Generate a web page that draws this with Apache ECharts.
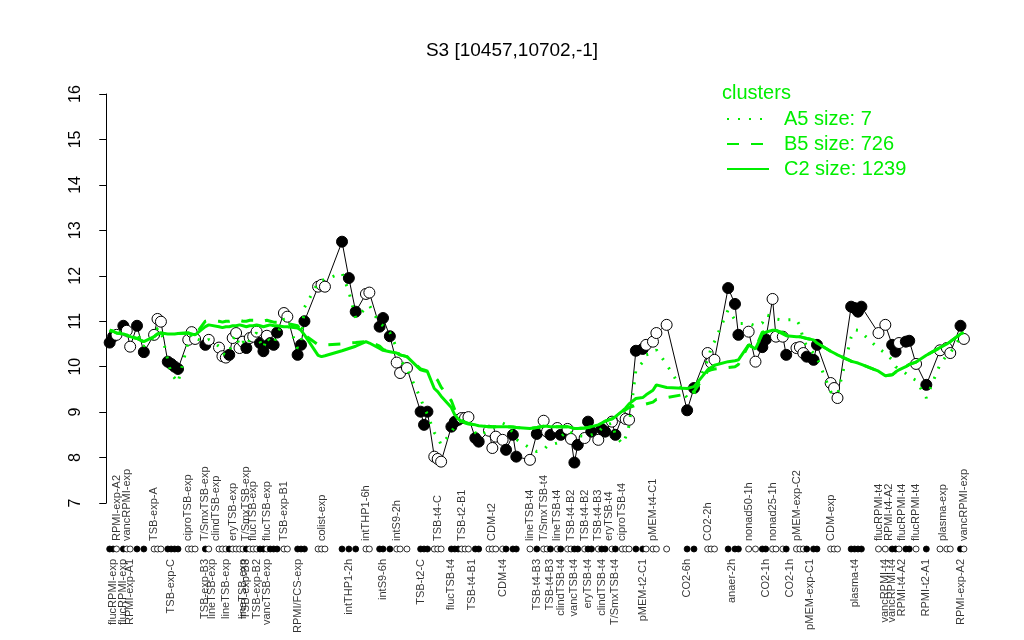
<!DOCTYPE html>
<html><head><meta charset="utf-8">
<script src="https://cdn.jsdelivr.net/npm/echarts@6/dist/echarts.min.js"></script>
<style>html,body{margin:0;padding:0;background:#fff}#c{width:1024px;height:640px}</style>
</head><body><div id="c"></div>
<script>
// x position of each sample (index units along the profile)
const positions = [1,2,3,5,6,7,9,11,14,15,16,18,19,20,21,24,25,26,29,30,33,34,35,36,37,38,39,40,41,42,43,44,45,46,47,48,49,50,52,53,56,57,58,62,63,64,69,71,73,76,77,80,81,83,85,86,88,92,93,94,96,97,98,101,102,103,104,105,106,108,109,112,113,114,116,117,119,120,124,126,128,129,130,132,133,135,136,137,138,140,141,142,144,145,146,148,149,151,152,153,155,157,158,160,161,164,170,172,176,177,178,182,184,185,188,190,192,193,195,196,198,199,202,203,204,205,207,208,212,213,214,218,219,220,221,226,228,230,231,232,234,235,237,240,244,246,247,250,251];
const values = [10.53,10.66,10.70,10.90,10.79,10.44,10.90,10.32,10.70,11.05,10.99,10.11,10.06,10.00,9.95,10.59,10.76,10.61,10.48,10.59,10.42,10.23,10.20,10.26,10.63,10.74,10.41,10.55,10.41,10.63,10.66,10.77,10.52,10.34,10.68,10.52,10.48,10.75,11.18,11.10,10.26,10.48,11.00,11.76,11.80,11.76,12.75,11.95,11.21,11.60,11.63,10.88,11.07,10.67,10.09,9.86,9.97,9.01,8.72,9.01,8.02,7.97,7.91,8.68,8.79,8.83,8.87,8.87,8.89,8.43,8.35,8.59,8.21,8.46,8.39,8.17,8.50,8.02,7.95,8.52,8.81,8.57,8.50,8.65,8.50,8.63,8.41,7.89,8.28,8.43,8.79,8.57,8.39,8.63,8.57,8.79,8.50,8.89,8.85,8.83,10.35,10.39,10.48,10.55,10.74,10.92,9.04,9.53,10.30,10.09,10.15,11.73,11.38,10.70,10.77,10.11,10.43,10.60,11.49,10.66,10.66,10.26,10.41,10.43,10.30,10.22,10.15,10.48,9.64,9.53,9.31,11.32,11.29,11.21,11.32,10.74,10.92,10.48,10.33,10.52,10.55,10.57,10.06,9.60,10.36,10.41,10.30,10.90,10.61];
const filled = [1,1,0,1,0,0,1,1,0,0,0,1,1,1,1,0,0,0,1,0,0,0,0,1,0,0,0,0,1,0,0,0,1,1,0,1,1,1,0,0,1,1,1,0,0,0,1,1,1,0,0,1,1,1,0,0,0,1,1,1,0,0,0,1,1,1,0,0,0,1,1,0,0,0,0,1,1,1,0,1,0,0,1,0,1,0,0,1,1,0,1,1,0,1,1,0,1,0,0,0,1,1,0,0,0,0,1,1,0,0,0,1,1,1,0,0,1,1,0,0,0,1,0,0,0,1,1,1,0,0,0,1,1,1,1,0,0,1,1,0,1,1,0,1,0,0,0,1,0];
// cluster mean profiles at the same positions
const clusterA5 = [10.80,10.75,10.72,10.80,10.72,10.55,10.75,10.45,10.65,10.85,10.80,10.15,9.84,9.75,9.65,10.55,10.72,10.62,10.55,10.60,10.45,10.30,10.25,10.30,10.60,10.70,10.45,10.55,10.45,10.60,10.65,10.75,10.55,10.40,10.65,10.55,10.50,10.70,11.05,11.00,10.40,10.55,11.30,11.85,11.90,11.92,12.06,11.65,11.07,11.29,11.35,10.95,10.90,10.75,10.41,10.15,9.95,9.30,9.10,8.95,8.55,8.45,8.28,8.55,8.70,8.78,8.80,8.82,8.80,8.55,8.48,8.60,8.65,8.70,8.76,8.72,8.55,8.40,8.21,8.13,8.17,8.25,8.28,8.32,8.45,8.60,8.55,8.50,8.48,8.47,8.46,8.50,8.55,8.65,8.70,8.76,8.50,8.30,8.45,8.70,9.93,10.10,10.26,10.30,10.37,10.05,9.31,9.40,10.15,10.40,10.55,11.25,11.03,10.95,10.95,10.90,10.96,11.14,11.10,11.05,11.03,11.03,11.03,10.90,10.60,10.45,10.30,10.20,9.45,9.40,9.38,10.65,10.81,10.80,10.75,10.40,10.30,10.15,10.00,9.95,9.85,9.78,9.70,9.31,10.05,10.25,10.30,10.65,10.70];
const clusterB5 = [10.80,10.78,10.74,10.72,10.70,10.66,10.62,10.55,10.66,10.72,10.74,10.72,10.72,10.72,10.73,10.74,10.72,10.70,11.00,11.02,11.00,10.98,11.00,11.00,11.02,11.00,11.02,11.00,11.00,11.02,11.02,11.00,11.00,11.00,11.02,11.00,10.98,10.98,10.98,10.95,10.90,10.80,10.70,10.48,10.48,10.48,10.50,10.52,10.53,10.55,10.55,10.45,10.38,10.33,10.30,10.26,10.22,9.95,9.93,9.90,9.78,9.70,9.55,9.25,9.05,8.90,8.82,8.78,8.75,8.72,8.70,8.68,8.68,8.68,8.68,8.68,8.67,8.66,8.64,8.66,8.69,8.69,8.68,8.68,8.68,8.68,8.66,8.64,8.64,8.65,8.66,8.68,8.72,8.76,8.80,8.85,8.90,9.00,9.05,9.10,9.15,9.16,9.18,9.22,9.28,9.32,9.40,9.45,9.90,9.93,9.95,9.98,10.00,10.05,10.48,10.40,10.76,10.78,10.80,10.80,10.75,10.70,10.66,10.66,10.64,10.62,10.59,10.52,10.34,10.30,10.26,10.12,10.10,10.08,10.05,9.90,9.80,9.82,9.88,9.93,10.00,10.05,10.10,10.25,10.42,10.50,10.55,10.72,10.75];
const clusterC2 = [10.80,10.78,10.74,10.72,10.70,10.66,10.62,10.55,10.66,10.72,10.74,10.72,10.72,10.72,10.73,10.74,10.72,10.70,10.88,10.92,10.88,10.86,10.88,10.88,10.90,10.90,10.92,10.90,10.88,10.90,10.90,10.92,10.90,10.88,10.90,10.92,10.90,10.90,10.88,10.88,10.85,10.80,10.70,10.25,10.22,10.24,10.35,10.40,10.45,10.55,10.52,10.40,10.36,10.33,10.30,10.26,10.22,9.93,9.91,9.89,9.52,9.45,9.35,9.10,8.94,8.85,8.80,8.76,8.74,8.72,8.70,8.68,8.68,8.68,8.68,8.68,8.67,8.66,8.64,8.66,8.69,8.69,8.68,8.68,8.68,8.68,8.66,8.64,8.64,8.65,8.66,8.68,8.72,8.76,8.80,8.85,8.90,9.02,9.09,9.18,9.30,9.32,9.38,9.48,9.60,9.54,9.52,9.56,9.93,9.98,10.03,10.11,10.13,10.15,10.48,10.39,10.72,10.76,10.80,10.80,10.72,10.68,10.66,10.66,10.64,10.62,10.59,10.52,10.34,10.30,10.26,10.12,10.10,10.08,10.05,9.90,9.80,9.82,9.88,9.93,10.00,10.05,10.10,10.25,10.42,10.50,10.55,10.72,10.75];
// sample labels: [position, text]
const topLabels = [[3,'RPMI-exp-A2'],[6,'vancRPMI-exp'],[14,'TSB-exp-A'],[24,'ciproTSB-exp'],[29,'T/SmxTSB-exp'],[32,'clindTSB-exp'],[37,'eryTSB-exp'],[41,'T/SmxTSB-exp'],[43,'flucTSB-exp'],[47,'flucTSB-exp'],[52,'TSB-exp-B1'],[63,'colist-exp'],[76,'intTHP1-6h'],[85,'intS9-2h'],[97,'TSB-t4-C'],[104,'TSB-t2-B1'],[113,'CDM-t2'],[124,'lineTSB-t4'],[128,'T/SmxTSB-t4'],[132,'lineTSB-t4'],[136,'TSB-t4-B2'],[140,'TSB-t4-B2'],[144,'TSB-t4-B3'],[147,'eryTSB-t4'],[151,'ciproTSB-t4'],[160,'pMEM-t4-C1'],[176,'CO2-2h'],[188,'nonad50-1h'],[195,'nonad25-1h'],[202,'pMEM-exp-C2'],[212,'CDM-exp'],[226,'flucRPMI-t4'],[229,'RPMI-t4-A2'],[233,'flucRPMI-t4'],[237,'flucRPMI-t4'],[245,'plasma-exp'],[251,'vancRPMI-exp']];
const bottomLabels = [[2,'flucRPMI-exp'],[5,'flucRPMI-exp'],[7,'RPMI-exp-A1'],[19,'TSB-exp-C'],[29,'TSB-exp-B3'],[31,'lineTSB-exp'],[35,'lineTSB-exp'],[40,'lineTSB-exp'],[41,'TSB-exp-B3'],[44,'TSB-exp-B2'],[47,'vancTSB-exp'],[56,'RPMI/FCS-exp'],[71,'intTHP1-2h'],[81,'intS9-6h'],[92,'TSB-t2-C'],[101,'flucTSB-t4'],[107,'TSB-t4-B1'],[116,'CDM-t4'],[126,'TSB-t4-B3'],[130,'TSB-t4-B3'],[133,'clindTSB-t4'],[137,'vancTSB-t4'],[141,'eryTSB-t4'],[145,'clindTSB-t4'],[149,'T/SmxTSB-t4'],[157,'pMEM-t2-C1'],[170,'CO2-6h'],[183,'anaer-2h'],[193,'CO2-1h'],[200,'CO2-1h'],[206,'pMEM-exp-C1'],[219,'plasma-t4'],[228,'vancRPMI-t4'],[230,'vancRPMI-t4'],[233,'RPMI-t4-A2'],[240,'RPMI-t2-A1'],[250,'RPMI-exp-A2']];
const yTicks = [7,8,9,10,11,12,13,14,15,16];
const titleText = 'S3 [10457,10702,-1]';
const clusterNames = ['A5 size: 7','B5 size: 726','C2 size: 1239'];

const FONT = 'Liberation Sans, Arial, Helvetica, sans-serif';
const GREEN = '#00ee00';
const xMin = -3, xMax = 256;
const pts = positions.map((p,i)=>[p, values[i]]);
const chart = echarts.init(document.getElementById('c'), null, {renderer:'canvas'});
chart.setOption({
  animation:false,
  backgroundColor:'#fff',
  textStyle:{fontFamily:FONT},
  title:[
    {text:titleText,left:'center',top:36,textStyle:{fontSize:19,fontWeight:'normal',color:'#000',fontFamily:FONT}},
    {text:'clusters',left:717,top:78,textStyle:{fontSize:20,fontWeight:'normal',color:GREEN,fontFamily:FONT}}
  ],
  legend:{
    orient:'vertical',left:721,top:104,itemWidth:42,itemHeight:14,itemGap:5,
    data:clusterNames,
    itemStyle:{opacity:0},
    textStyle:{fontSize:20,color:GREEN,fontFamily:FONT,padding:[0,0,0,10]}
  },
  grid:[
    {left:96,right:43,top:94,bottom:137},
    {left:96,right:43,top:544,height:10}
  ],
  xAxis:[
    {gridIndex:0,type:'value',min:xMin,max:xMax,show:false},
    {gridIndex:1,type:'value',min:xMin,max:xMax,show:false}
  ],
  yAxis:[
    {gridIndex:0,type:'value',min:yTicks[0],max:yTicks[yTicks.length-1],interval:1,
     axisLine:{show:true,lineStyle:{color:'#000',width:1}},
     axisTick:{show:true,length:7,lineStyle:{color:'#000'}},
     splitLine:{show:false},
     axisLabel:{rotate:90,fontSize:16,color:'#000',margin:12,fontFamily:FONT}},
    {gridIndex:1,type:'value',min:-1,max:1,show:false}
  ],
  series:[
    {type:'line',name:'profile',xAxisIndex:0,yAxisIndex:0,data:pts,symbol:'none',
     lineStyle:{color:'#000',width:1},z:2,silent:true},
    {type:'scatter',name:'samples',xAxisIndex:0,yAxisIndex:0,symbol:'circle',symbolSize:11,z:3,
     itemStyle:{opacity:1,borderColor:'#000',borderWidth:1},
     data:pts.map((d,i)=>({value:d,itemStyle:{color:filled[i]?'#000':'#fff',borderColor:'#000',borderWidth:1,opacity:1}}))},
    {type:'line',name:clusterNames[0],xAxisIndex:0,yAxisIndex:0,data:positions.map((p,i)=>[p,clusterA5[i]]),
     symbol:'none',lineStyle:{color:GREEN,width:3,type:[2,9]},itemStyle:{color:GREEN},z:4},
    {type:'line',name:clusterNames[1],xAxisIndex:0,yAxisIndex:0,data:positions.map((p,i)=>[p,clusterB5[i]]),
     symbol:'none',lineStyle:{color:GREEN,width:3,type:[12,12]},itemStyle:{color:GREEN},z:4},
    {type:'line',name:clusterNames[2],xAxisIndex:0,yAxisIndex:0,data:positions.map((p,i)=>[p,clusterC2[i]]),
     symbol:'none',lineStyle:{color:GREEN,width:3,type:'solid'},itemStyle:{color:GREEN},z:4},
    {type:'scatter',name:'rug',xAxisIndex:1,yAxisIndex:1,symbol:'circle',symbolSize:6,
     itemStyle:{opacity:1},
     data:positions.map((p,i)=>({value:[p,0],itemStyle:{color:filled[i]?'#000':'#fff',borderColor:'#000',borderWidth:0.8,opacity:1}}))},
    {type:'scatter',name:'topLabels',xAxisIndex:1,yAxisIndex:1,symbolSize:0,silent:true,
     data:topLabels.map(l=>({value:[l[0],0],name:l[1]})),
     label:{show:true,formatter:p=>p.name,rotate:90,position:[0,-8],align:'left',verticalAlign:'middle',fontSize:11,color:'#000',fontFamily:FONT}},
    {type:'scatter',name:'bottomLabels',xAxisIndex:1,yAxisIndex:1,symbolSize:0,silent:true,
     data:bottomLabels.map(l=>({value:[l[0],0],name:l[1]})),
     label:{show:true,formatter:p=>p.name,rotate:90,position:[0,10],align:'right',verticalAlign:'middle',fontSize:11,color:'#000',fontFamily:FONT}}
  ]
});
</script></body></html>
